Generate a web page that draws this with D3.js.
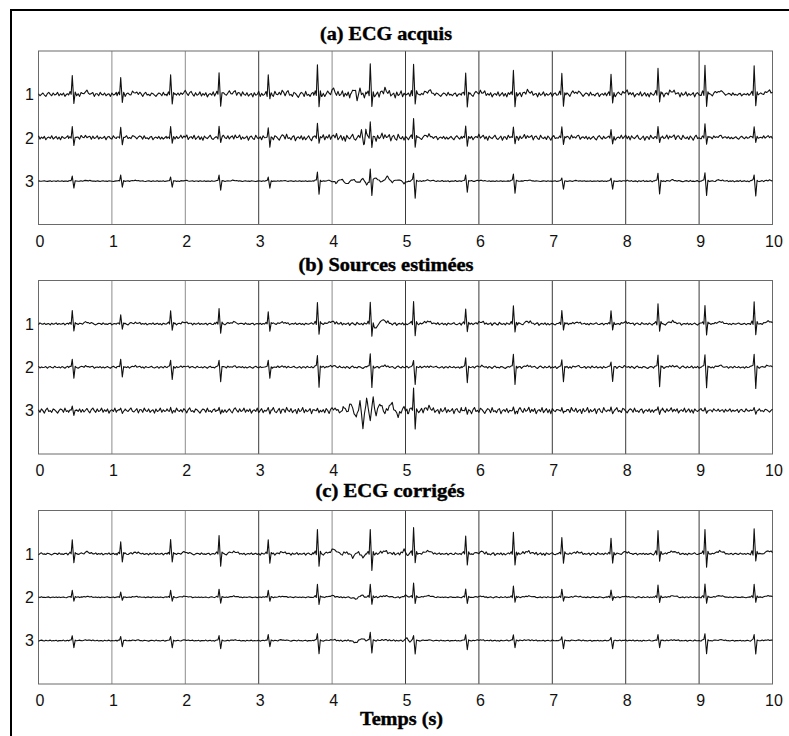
<!DOCTYPE html>
<html><head><meta charset="utf-8">
<script src="https://cdn.jsdelivr.net/npm/d3@7/dist/d3.min.js"></script>
<style>body{margin:0;background:#fff}</style></head>
<body>
<script>
// ---------------- DATA ----------------
const timeTicks = [0,1,2,3,4,5,6,7,8,9,10];
const channelTicks = [1,2,3];
const panelTitles = ["(a) ECG acquis","(b) Sources estimées","(c) ECG corrigés"];
const xAxisTitle = "Temps (s)";

// R-peak times (s)
const beatTimes = [0.46,1.12,1.80,2.46,3.13,3.80,4.52,5.11,5.82,6.47,7.13,7.80,8.44,9.08,9.75];

// Amplitude unit: 43 units = spacing between two channels
const unitsPerChannel = 43;

// QRS template: offset (s), share of R amplitude, share of S amplitude
const qrsOffsets = [-0.05,-0.03,-0.015,0,0.022,0.04,0.055];
const qrsRShare  = [0,0.12,-0.1,1,0,0.1,0];
const qrsSShare  = [0,0,0.15,0,-1,0,0];
// T wave template
const tOffsets = [0.1,0.2,0.3];
const tShare   = [0,0.12,0];

// Hand-typed baseline roughness texture (-3..3)
const wiggle = [1,-2,0,2,-1,-3,1,3,0,-2,2,-1,0,3,-2,1,-1,2,-3,0,1,-1,3,-2,0,2,-2,1,-3,2,0,-1,1,3,-1,-2,0,2,-3,1,1,-2,3,0,-1,2,-2,0,1,-3,2,-1,0,3,-2,1,-1,0,2,-3,1,2,-1,-2,3,0,-1,1,-2,2,0,-3,1,3,-1,0,-2,2,1,-1,-3,0,2,1,-2,3,-1,0,-2,1,2,-3,0,1,-1,2,-2];

// Panel (a) ECG acquis
const a1R = [19,17,19,22,19,29,30,30,21,23,21,20,26,29,28];
const a1S = [9,8,9,12,5,12,13,9,12,12,12,9,7,12,11];
const a1N = [2,2,2.5,3,3.5,2,2.5,2.2,2.5,1.5];
const a1Art = [[4.25,0],[4.3,5],[4.34,-4],[4.38,4],[4.42,0]];
const a2R = [11,10,11,11,9,15,15,19,11,11,11,8,11,14,11];
const a2S = [8,7,6,5,9,6,9,9,8,6,6,6,5,6,5];
const a2N = [2,2,2.5,3,3.5,2,2.5,2.2,2.5,1.5];
const a2Art = [[4.36,0],[4.4,7],[4.43,-8],[4.46,5],[4.49,0]];
const a3R = [5,6,4,6,4,9,13,8,6,7,3,3,8,8,6];
const a3S = [7,6,6,9,7,13,14,17,11,12,8,8,13,14,15];
const a3N = [0.4,0.4,0.4,0.4,1,0.6,0.4,0.4,0.7,0.7];
const a3Art = [[3.95,0],[4.05,-2],[4.12,2],[4.2,-3],[4.28,2],[4.36,-2],[4.42,3],[4.47,-4],[4.6,3],[4.68,-2],[4.75,3],[4.82,-1],[4.9,2],[4.98,-2],[5.04,0]];

// Panel (b) Sources estimées
const b1R = [13,9,13,15,12,21,21,22,15,18,13,13,20,18,22];
const b1S = [7,5,6,9,7,10,12,12,8,8,6,6,7,11,11];
const b1N = [1,1,1,1,1.5,1.2,1.5,1,1.2,0.8];
const b1Art = [[4.55,0],[4.6,-5],[4.66,3],[4.72,0]];
const b2R = [8,8,7,7,7,12,13,7,9,13,7,5,12,12,13];
const b2S = [11,10,12,14,11,20,20,17,15,17,14,14,19,20,21];
const b2N = [1,1,1,1,1.2,1,1.2,1.2,1.2,1];
const b2Art = [];
const b3R = [4,3,3,3,3,3,0,22,3,3,3,3,4,3,3];
const b3S = [4,3,3,3,3,3,0,19,3,3,3,3,3,3,3];
const b3N = [2.5,2.5,2.5,3,2.5,3,3,3,2.5,1.8];
const b3Art = [[4.0,0],[4.05,3],[4.1,-3],[4.15,4],[4.2,-2],[4.26,7],[4.33,-8],[4.38,10],[4.42,-17],[4.47,13],[4.52,-10],[4.56,14],[4.6,-6],[4.65,8],[4.72,-3],[4.81,8],[4.9,-6],[4.97,3],[5.03,0]];

// Panel (c) ECG corrigés
const c1R = [14,12,14,18,14,24,24,26,18,21,16,15,23,24,25];
const c1S = [9,8,8,12,9,12,17,9,11,11,9,9,7,13,7];
const c1N = [1,1,1,1.2,1.5,1,1.5,1.2,1,0.8];
const c1Art = [[3.98,0],[4.05,3],[4.12,-1],[4.2,2],[4.28,-3],[4.35,2],[4.42,-3],[4.48,0],[4.92,0],[4.98,4],[5.03,-2],[5.06,0]];
const c2R = [7,5,7,8,7,13,13,14,8,11,8,7,12,13,13];
const c2S = [4,3,4,6,4,7,7,6,6,5,4,3,5,6,5];
const c2N = [0.5,0.5,0.5,0.5,0.8,0.5,0.6,0.6,0.6,0.5];
const c2Art = [[4.25,0],[4.32,-2],[4.4,2],[4.46,0],[4.95,0],[5.0,2],[5.05,0]];
const c3R = [5,4,4,5,6,7,8,5,6,6,4,3,6,7,6];
const c3S = [7,6,7,8,6,13,12,13,9,7,8,8,7,13,13];
const c3N = [0.5,0.5,0.5,0.5,0.8,0.5,0.6,0.6,0.6,0.5];
const c3Art = [[4.25,0],[4.32,-2],[4.4,2],[4.46,0],[4.98,0],[5.02,3],[5.06,-2],[5.09,0]];

const panels = [
  [{R:a1R,S:a1S,N:a1N,A:a1Art,o:0},{R:a2R,S:a2S,N:a2N,A:a2Art,o:13},{R:a3R,S:a3S,N:a3N,A:a3Art,o:29}],
  [{R:b1R,S:b1S,N:b1N,A:b1Art,o:41},{R:b2R,S:b2S,N:b2N,A:b2Art,o:53},{R:b3R,S:b3S,N:b3N,A:b3Art,o:67}],
  [{R:c1R,S:c1S,N:c1N,A:c1Art,o:71},{R:c2R,S:c2S,N:c2N,A:c2Art,o:83},{R:c3R,S:c3S,N:c3N,A:c3Art,o:5}]
];

// ---------------- LAYOUT ----------------
const W = 789, H = 736;
const plotLeft = 38.5, plotRight = 772.5;
const panelTops = [51, 280.5, 510.5];
const panelH = 173.5;
const titleBaselines = [40, 270.5, 497];
const titleWidths = [132, 175, 149];
const titleCenters = [386, 386, 390];
const lightGrid = [1,2,4];

const svg = d3.select("body").append("svg").attr("width",W).attr("height",H)
  .style("font-family","'Liberation Sans',Arial,sans-serif");

svg.append("rect").attr("width",W).attr("height",H).attr("fill","#fff");
// frame (top & left)
svg.append("path").attr("d",`M11,${H} L11,10 L${W},10`).attr("fill","none")
  .attr("stroke","#000").attr("stroke-width",2);

const x = d3.scaleLinear().domain([0,10]).range([plotLeft,plotRight]);

function interp(xs, ys, t){
  if (t < xs[0] || t > xs[xs.length-1]) return 0;
  for (let i=0;i<xs.length-1;i++){
    if (t>=xs[i] && t<=xs[i+1]){
      const f = (t-xs[i])/(xs[i+1]-xs[i]);
      return ys[i] + f*(ys[i+1]-ys[i]);
    }
  }
  return 0;
}

function buildTrace(tr){
  const step = 0.02;
  const ts = new Set();
  for (let i=0;i<=500;i++) ts.add(+(i*step).toFixed(4));
  beatTimes.forEach(b=>qrsOffsets.forEach(o=>ts.add(+(b+o).toFixed(4))));
  tr.A.forEach(p=>ts.add(p[0]));
  const times = Array.from(ts).filter(t=>t>=0&&t<=10).sort((a,b)=>a-b);
  const artX = tr.A.map(p=>p[0]), artY = tr.A.map(p=>p[1]);
  return times.map(t=>{
    const idx = Math.round(t/step);
    const lvl = tr.N[Math.min(9,Math.floor(t))];
    let noise = wiggle[(idx+tr.o)%wiggle.length]/3*lvl;
    let v = 0;
    beatTimes.forEach((b,k)=>{
      const d = t-b;
      if (d>=qrsOffsets[0] && d<=qrsOffsets[qrsOffsets.length-1]){
        v += interp(qrsOffsets,qrsRShare,d)*tr.R[k] + interp(qrsOffsets,qrsSShare,d)*tr.S[k];
        noise *= 0.3;
      }
      v += interp(tOffsets,tShare,d)*tr.R[k];
    });
    if (tr.A.length) v += interp(artX,artY,t);
    return {t, v: v+noise};
  });
}

panels.forEach((traces,pi)=>{
  const top = panelTops[pi], bottom = top+panelH;
  const y = d3.scaleLinear().domain([0,4]).range([top,bottom]);
  const g = svg.append("g");

  // vertical grid lines
  g.selectAll("line.grid").data(timeTicks.slice(1,-1)).enter().append("line")
    .attr("x1",d=>x(d)).attr("x2",d=>x(d)).attr("y1",top).attr("y2",bottom)
    .attr("stroke",d=>lightGrid.includes(d)?"#8c8c8c":"#3a3a3a").attr("stroke-width",1);

  // box
  g.append("rect").attr("x",plotLeft).attr("y",top).attr("width",plotRight-plotLeft).attr("height",panelH)
    .attr("fill","none").attr("stroke","#6a6a6a").attr("stroke-width",1);

  // traces
  const line = d3.line().x(d=>x(d.t));
  traces.forEach((tr,ci)=>{
    const ch = channelTicks[ci];
    const pts = buildTrace(tr);
    g.append("path").datum(pts)
      .attr("d", line.y(d=>y(ch - d.v/unitsPerChannel)))
      .attr("fill","none").attr("stroke","#111").attr("stroke-width",1.1)
      .attr("stroke-linejoin","round");
  });

  // x tick labels
  g.selectAll("text.xt").data(timeTicks).enter().append("text")
    .attr("x",d=>x(d)+1.5).attr("y",bottom+22).attr("text-anchor","middle")
    .attr("font-size",16).attr("fill","#111").text(d=>d);

  // y tick labels
  g.selectAll("text.yt").data(channelTicks).enter().append("text")
    .attr("x",34).attr("y",d=>y(d)).attr("dy","0.36em").attr("text-anchor","end")
    .attr("font-size",16).attr("fill","#111").text(d=>d);

  // title
  g.append("text").attr("x",titleCenters[pi]-titleWidths[pi]/2).attr("y",titleBaselines[pi])
    .attr("textLength",titleWidths[pi]).attr("lengthAdjust","spacingAndGlyphs")
    .style("font-family","'Liberation Serif','Times New Roman',serif")
    .attr("font-weight","bold").attr("font-size",18).attr("fill","#000")
    .attr("stroke","#000").attr("stroke-width",0.4)
    .text(panelTitles[pi]);
});

svg.append("text").attr("x",360).attr("y",725)
  .attr("textLength",83).attr("lengthAdjust","spacingAndGlyphs")
  .style("font-family","'Liberation Serif','Times New Roman',serif")
  .attr("font-weight","bold").attr("font-size",18).attr("fill","#000")
  .attr("stroke","#000").attr("stroke-width",0.4)
  .text(xAxisTitle);
</script>
</body></html>
